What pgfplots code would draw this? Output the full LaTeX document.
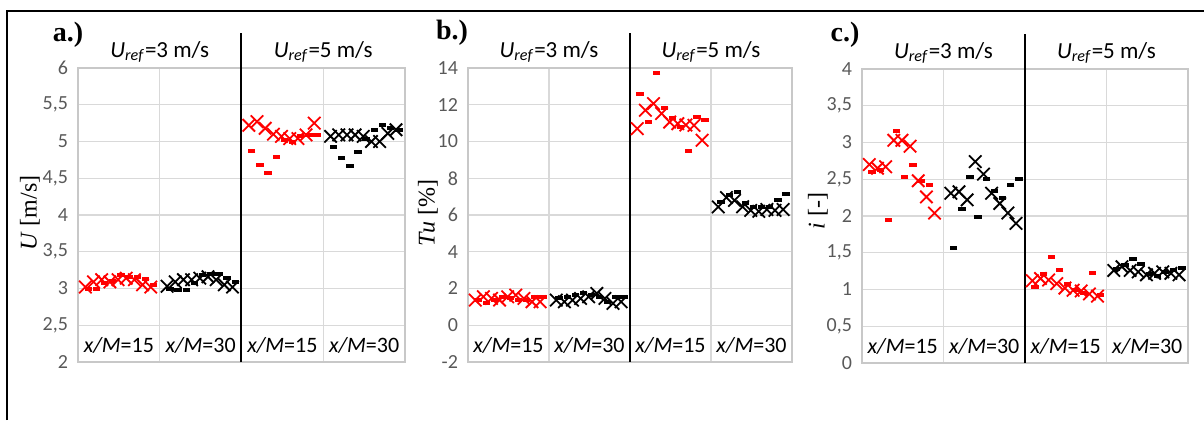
\documentclass[border=0pt]{standalone}
\usepackage{fontspec}
\setmainfont{Carlito}
\newfontfamily\serifont{Liberation Serif}
\usepackage{pgfplots}
\pgfplotsset{compat=1.18}
\definecolor{gridc}{HTML}{D9D9D9}
\definecolor{axisc}{HTML}{C8C8C8}
\definecolor{tickc}{HTML}{595959}
\definecolor{myred}{HTML}{FF0000}
\pgfplotsset{
  panel/.style={scale only axis, height=147pt, anchor=south west,
    xmin=0, xmax=4, xtick={1,2,3,4}, xticklabels={},
    xmajorgrids, ymajorgrids, grid style={gridc, line width=0.6pt},
    axis line style={axisc, line width=0.6pt}, major tick length=0pt,
    tick label style={font=\fontsize{10}{12}\selectfont, text=tickc},
    yticklabel style={xshift=-1.5pt},
    clip=false,
    /pgf/number format/use comma,
    /pgf/number format/assume math mode=true},
  xs/.style={only marks, mark=x, mark size=4.4pt, mark options={line width=0.9pt}},
  ds/.style={only marks, mark=-, mark size=1.85pt, mark options={line width=2pt}},
}
\newcommand{\cat}[1]{\textit{x/M}=#1}
\newcommand{\uref}[1]{\textit{U}\textsubscript{\textit{ref}}=#1 m/s}
\begin{document}
\begin{tikzpicture}
\path[use as bounding box] (0,0) rectangle (602pt,210pt);
\draw[line width=1pt] (3.5pt,0) -- (3.5pt,204.5pt) -- (602pt,204.5pt);
% panel labels and y labels
\node[font=\serifont\bfseries\fontsize{14}{16}\selectfont] at (34pt,192.5pt) {a.)};
\node[font=\serifont\bfseries\fontsize{14}{16}\selectfont] at (226pt,193.5pt) {b.)};
\node[font=\serifont\bfseries\fontsize{14}{16}\selectfont] at (422.5pt,192.5pt) {c.)};
\node[rotate=90, font=\serifont\fontsize{12}{14}\selectfont] at (15pt,103.5pt) {\textit{U} [m/s]};
\node[rotate=90, font=\serifont\fontsize{12}{14}\selectfont] at (214pt,103.5pt) {\textit{Tu} [\%]};
\node[rotate=90, font=\serifont\fontsize{12}{14}\selectfont] at (409pt,104.5pt) {\textit{i} [-]};

% ---------------- panel a ----------------
\begin{axis}[panel, at={(39pt,29pt)}, width=163.5pt, ymin=2, ymax=6, ytick={2,2.5,...,6}]
\addplot[xs, myred] coordinates {(0.09,3.02)(0.19,3.09)(0.29,3.12)(0.39,3.09)(0.49,3.12)(0.59,3.14)(0.69,3.12)(0.79,3.05)(0.89,3.02)};
\addplot[ds, myred] coordinates {(0.125,3.00)(0.225,3.00)(0.325,3.07)(0.425,3.10)(0.525,3.18)(0.625,3.16)(0.725,3.16)(0.825,3.13)(0.925,3.05)};
\addplot[xs, black] coordinates {(1.09,3.03)(1.19,3.09)(1.29,3.12)(1.39,3.12)(1.49,3.14)(1.59,3.16)(1.69,3.12)(1.79,3.05)(1.89,3.02)};
\addplot[ds, black] coordinates {(1.125,3.00)(1.225,2.98)(1.325,2.98)(1.425,3.07)(1.525,3.18)(1.625,3.20)(1.725,3.20)(1.825,3.14)(1.925,3.09)};
\addplot[xs, myred] coordinates {(2.09,5.22)(2.19,5.27)(2.29,5.18)(2.39,5.10)(2.49,5.07)(2.59,5.04)(2.69,5.04)(2.79,5.09)(2.89,5.25)};
\addplot[ds, myred] coordinates {(2.125,4.87)(2.225,4.68)(2.325,4.57)(2.425,4.79)(2.525,5.02)(2.625,5.00)(2.725,5.07)(2.825,5.09)(2.925,5.09)};
\addplot[xs, black] coordinates {(3.09,5.07)(3.19,5.09)(3.29,5.09)(3.39,5.09)(3.49,5.07)(3.59,5.00)(3.69,5.00)(3.79,5.11)(3.89,5.16)};
\addplot[ds, black] coordinates {(3.125,4.93)(3.225,4.78)(3.325,4.67)(3.425,4.86)(3.525,5.04)(3.625,5.16)(3.725,5.22)(3.825,5.18)(3.925,5.16)};
\draw[black, line width=1pt] (axis cs:2,2) -- ([yshift=17.5pt]axis cs:2,6);
\foreach \c/\t in {0.5/15,1.5/30,2.5/15,3.5/30}
  {\edef\tmp{\noexpand\node[anchor=base, font=\noexpand\fontsize{11}{13}\noexpand\selectfont] at ([yshift=5pt]axis cs:\c,2) {\noexpand\cat{\t}};}\tmp}
\node[anchor=base, font=\fontsize{11.5}{13}\selectfont] at ([yshift=5.5pt]axis cs:1,6) {\uref{3}};
\node[anchor=base, font=\fontsize{11.5}{13}\selectfont] at ([yshift=5.5pt]axis cs:3,6) {\uref{5}};
\end{axis}

% ---------------- panel b ----------------
\begin{axis}[panel, at={(234pt,29pt)}, width=162pt, ymin=-2, ymax=14, ytick={-2,0,...,14}]
\addplot[xs, myred] coordinates {(0.09,1.37)(0.19,1.55)(0.29,1.46)(0.39,1.37)(0.49,1.55)(0.59,1.64)(0.69,1.46)(0.79,1.28)(0.89,1.28)};
\addplot[ds, myred] coordinates {(0.125,1.40)(0.225,1.19)(0.325,1.37)(0.425,1.55)(0.525,1.46)(0.625,1.37)(0.725,1.37)(0.825,1.55)(0.925,1.55)};
\addplot[xs, black] coordinates {(1.09,1.37)(1.19,1.28)(1.29,1.37)(1.39,1.46)(1.49,1.55)(1.59,1.73)(1.69,1.46)(1.79,1.19)(1.89,1.28)};
\addplot[ds, black] coordinates {(1.125,1.46)(1.225,1.55)(1.325,1.64)(1.425,1.73)(1.525,1.64)(1.625,1.55)(1.725,1.28)(1.825,1.55)(1.925,1.55)};
\addplot[xs, myred] coordinates {(2.09,10.70)(2.19,11.70)(2.29,12.06)(2.39,11.52)(2.49,11.06)(2.59,10.97)(2.69,10.90)(2.79,10.88)(2.89,10.07)};
\addplot[ds, myred] coordinates {(2.125,12.57)(2.225,11.06)(2.325,13.72)(2.425,11.82)(2.525,11.30)(2.625,10.79)(2.725,9.48)(2.825,11.33)(2.925,11.19)};
\addplot[xs, black] coordinates {(3.09,6.44)(3.19,6.95)(3.29,6.80)(3.39,6.45)(3.49,6.25)(3.59,6.20)(3.69,6.30)(3.79,6.25)(3.89,6.30)};
\addplot[ds, black] coordinates {(3.125,6.71)(3.225,7.08)(3.325,7.26)(3.425,6.63)(3.525,6.44)(3.625,6.44)(3.725,6.44)(3.825,6.80)(3.925,7.17)};
\draw[black, line width=1pt] (axis cs:2,-2) -- ([yshift=17.5pt]axis cs:2,14);
\foreach \c/\t in {0.5/15,1.5/30,2.5/15,3.5/30}
  {\edef\tmp{\noexpand\node[anchor=base, font=\noexpand\fontsize{11}{13}\noexpand\selectfont] at ([yshift=5pt]axis cs:\c,-2) {\noexpand\cat{\t}};}\tmp}
\node[anchor=base, font=\fontsize{11.5}{13}\selectfont] at ([yshift=5.5pt]axis cs:1,14) {\uref{3}};
\node[anchor=base, font=\fontsize{11.5}{13}\selectfont] at ([yshift=5.5pt]axis cs:3,14) {\uref{5}};
\end{axis}

% ---------------- panel c ----------------
\begin{axis}[panel, at={(431pt,28.5pt)}, width=163pt, ymin=0, ymax=4, ytick={0,0.5,...,4}]
\addplot[xs, myred] coordinates {(0.09,2.70)(0.19,2.65)(0.29,2.67)(0.39,3.03)(0.49,3.03)(0.59,2.95)(0.69,2.48)(0.79,2.26)(0.89,2.04)};
\addplot[ds, myred] coordinates {(0.125,2.60)(0.225,2.63)(0.325,1.95)(0.425,3.15)(0.525,2.53)(0.625,2.70)(0.725,2.47)(0.825,2.42)};
\addplot[xs, black] coordinates {(1.09,2.31)(1.19,2.33)(1.29,2.22)(1.39,2.74)(1.49,2.57)(1.59,2.31)(1.69,2.17)(1.79,2.04)(1.89,1.90)};
\addplot[ds, black] coordinates {(1.125,1.57)(1.225,2.10)(1.325,2.53)(1.425,1.98)(1.525,2.50)(1.625,2.34)(1.725,2.25)(1.825,2.42)(1.925,2.50)};
\addplot[xs, myred] coordinates {(2.09,1.12)(2.19,1.15)(2.29,1.13)(2.39,1.08)(2.49,1.02)(2.59,0.99)(2.69,0.98)(2.79,0.94)(2.89,0.91)};
\addplot[ds, myred] coordinates {(2.125,1.03)(2.225,1.21)(2.325,1.44)(2.425,1.26)(2.525,1.07)(2.625,1.00)(2.725,0.95)(2.825,1.23)(2.925,0.93)};
\addplot[xs, black] coordinates {(3.09,1.26)(3.19,1.31)(3.29,1.26)(3.39,1.24)(3.49,1.20)(3.59,1.22)(3.69,1.24)(3.79,1.22)(3.89,1.20)};
\addplot[ds, black] coordinates {(3.125,1.28)(3.225,1.33)(3.325,1.42)(3.425,1.35)(3.525,1.21)(3.625,1.19)(3.725,1.24)(3.825,1.26)(3.925,1.29)};
\draw[black, line width=1pt] (axis cs:2,0) -- ([yshift=17.5pt]axis cs:2,4);
\foreach \c/\t in {0.5/15,1.5/30,2.5/15,3.5/30}
  {\edef\tmp{\noexpand\node[anchor=base, font=\noexpand\fontsize{11}{13}\noexpand\selectfont] at ([yshift=5pt]axis cs:\c,0) {\noexpand\cat{\t}};}\tmp}
\node[anchor=base, font=\fontsize{11.5}{13}\selectfont] at ([yshift=5.5pt]axis cs:1,4) {\uref{3}};
\node[anchor=base, font=\fontsize{11.5}{13}\selectfont] at ([yshift=5.5pt]axis cs:3,4) {\uref{5}};
\end{axis}
\end{tikzpicture}
\end{document}
